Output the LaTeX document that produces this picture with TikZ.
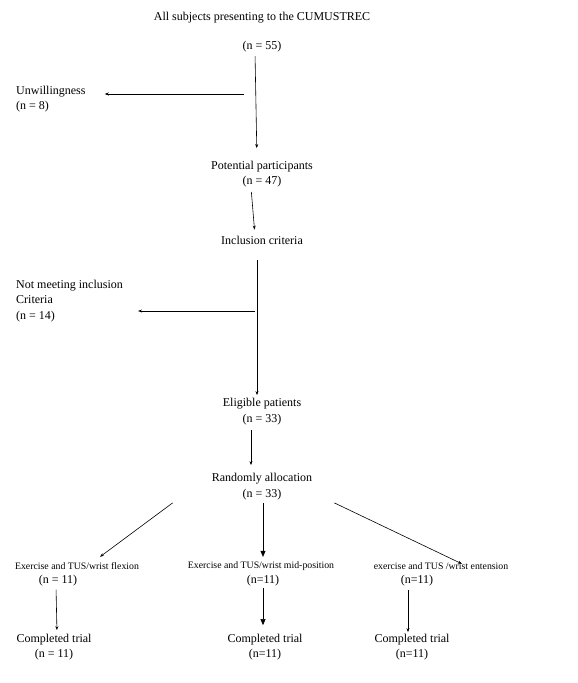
\documentclass[tikz,border=0pt]{standalone}
\usepackage{fontspec}
\setmainfont{Liberation Serif}
\usetikzlibrary{arrows.meta, positioning}

\begin{document}
\begin{tikzpicture}[
    x=1pt, y=-1pt,
    lbl/.style={inner sep=0pt, align=center, font=\fontsize{12}{15.5}\selectfont},
    side/.style={lbl, align=left, anchor=west},
    arm/.style={inner sep=0pt, font=\fontsize{9.8}{11}\selectfont},
    arrow/.style={-{Stealth[length=4pt, width=3pt]}, line width=0.6pt},
    bigarrow/.style={-{Triangle[length=6pt, width=5pt]}, line width=0.6pt}
]
    \useasboundingbox (0,0) rectangle (578,683);

    % screening
    \node[lbl] (all) at (262,18) {All subjects presenting to the CUMUSTREC};
    \node[lbl] (n55) at (262,47) {(n = 55)};
    \node[side] (unwill) at (16,99) {Unwillingness\\(n = 8)};
    \node[lbl] (potential) at (262,174) {Potential participants\\(n = 47)};
    \node[lbl] (incl) at (262,240) {Inclusion criteria};
    \node[side] (notmeet) at (16,301) {Not meeting inclusion\\Criteria\\(n = 14)};
    \node[lbl] (eligible) at (262,411.5) {Eligible patients\\(n = 33)};
    \node[lbl] (random) at (262,486.5) {Randomly allocation\\(n = 33)};

    % groups
    \node[arm] (flex) at (77,566) {Exercise and TUS/wrist flexion};
    \node[lbl] (nflex) at (58,581) {(n = 11)};
    \node[arm] (mid) at (261,566) {Exercise and TUS/wrist mid-position};
    \node[lbl] (nmid) at (263,581) {(n=11)};
    \node[arm] (ext) at (441,566) {exercise and TUS /wrist entension};
    \node[lbl] (next) at (417,581) {(n=11)};

    % completed
    \node[lbl] (done1) at (54,647) {Completed trial\\(n = 11)};
    \node[lbl] (done2) at (265,647) {Completed trial\\(n=11)};
    \node[lbl] (done3) at (412,647) {Completed trial\\(n=11)};

    % branch points
    \coordinate (b1) at (244,94);
    \coordinate (b2) at (255,311);

    % arrows
    \draw[arrow, shorten <=3.5pt, shorten >=12.5pt] ([xshift=-7pt]n55.south) -- ([xshift=-5pt]potential.north);
    \draw[arrow, shorten >=19pt] (b1) -- (unwill.east |- b1);
    \draw[arrow, shorten <=4.5pt, shorten >=6pt] ([xshift=-11pt]potential.south) -- ([xshift=-7pt]incl.north);
    \draw[arrow, shorten <=16pt, shorten >=3pt] ([xshift=-5pt]incl.south) -- ([xshift=-5pt]eligible.north);
    \draw[arrow, shorten >=15pt] (b2) -- (notmeet.east |- b2);
    \draw[arrow, shorten <=5pt, shorten >=8pt] ([xshift=-11pt]eligible.south) -- ([xshift=-11pt]random.north);
    \draw[arrow] ([shift={(-39,3)}]random.south west) -- ([shift={(23,-5.5)}]flex.north);
    \draw[bigarrow, shorten <=3pt, shorten >=4.5pt] ([xshift=1pt]random.south) -- ([xshift=2pt]mid.north);
    \draw[arrow] ([shift={(22,3)}]random.south east) -- ([shift={(21,1.5)}]ext.north);
    \draw[arrow, shorten <=3pt, shorten >=3.5pt] ([xshift=-2pt]nflex.south) -- ([xshift=3pt]done1.north);
    \draw[bigarrow, shorten <=1pt, shorten >=8.5pt] (nmid.south) -- ([xshift=-2pt]done2.north);
    \draw[arrow, shorten <=3pt, shorten >=1.5pt] ([xshift=-9pt]next.south) -- ([xshift=-4pt]done3.north);
\end{tikzpicture}
\end{document}
